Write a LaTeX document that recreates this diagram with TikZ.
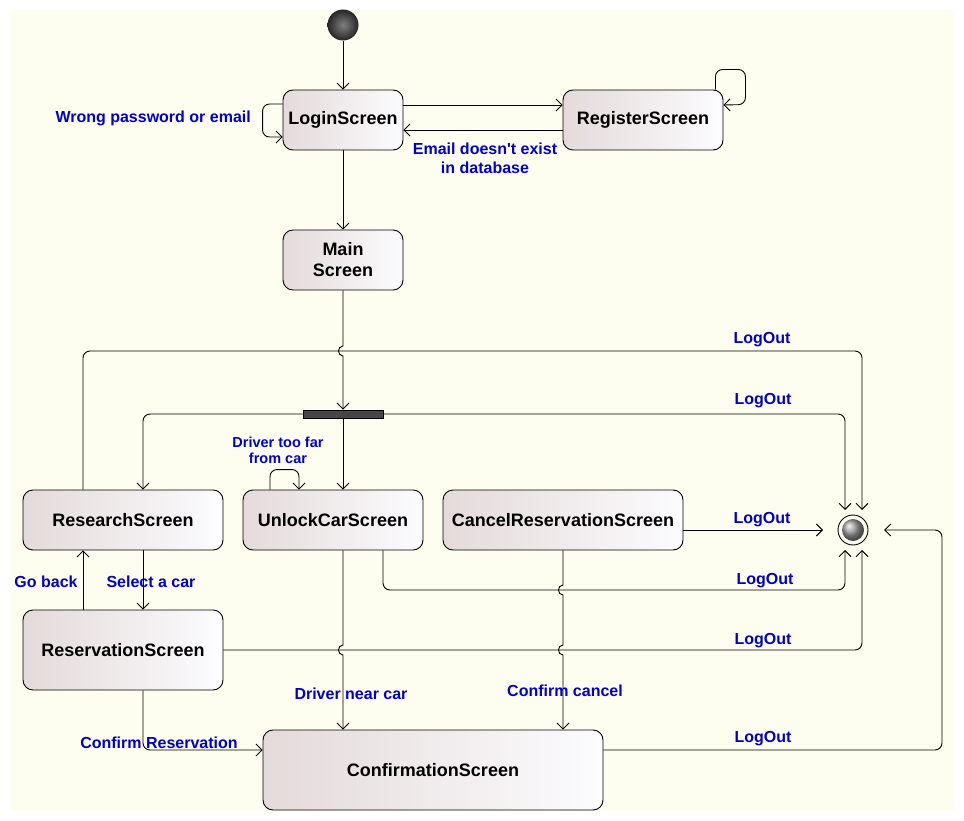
\documentclass[tikz,border=0pt]{standalone}
\usepackage{fontspec}
\setmainfont{Liberation Sans}[Ligatures=TeXOff]
\usetikzlibrary{arrows.meta,calc,shadings}
\definecolor{paper}{RGB}{254,254,240}
\definecolor{lblue}{RGB}{0,0,205}
\definecolor{boxl}{RGB}{228,218,218}
\definecolor{boxr}{RGB}{252,252,254}
\tikzset{
  state/.style={draw, line width=0.9pt, rounded corners=10pt, left color=boxl,
    right color=boxr, font=\bfseries\fontsize{18}{21}\selectfont, align=center,
    inner sep=0pt},
  lbl/.style={text=lblue, font=\bfseries\fontsize{16}{19}\selectfont,
    align=center, inner sep=0pt},
  tr/.style={draw, line width=0.9pt,
    -{Straight Barb[length=6pt,width=12pt,line width=0.9pt]}},
  rtr/.style={tr, rounded corners=7pt},
  vhop/.style={insert path={-- ([yshift=5pt]#1)
      .. controls +(-6,0) and +(-6,0) .. ([yshift=-5pt]#1)}},
}
\begin{document}
\begin{tikzpicture}[x=1pt,y=-1pt]
\useasboundingbox (0,0) rectangle (964,821);
\fill[paper] (10,10) rectangle (954,811);

% initial and final pseudo-states
\node[circle, minimum size=31pt, inner sep=0pt, inner color=black!50,
  outer color=black!85] (start) at (343,25) {};
\node[circle, draw, line width=0.9pt, minimum size=30pt, inner sep=0pt,
  fill=paper] (final) at (853,530) {};
\shade[ball color=gray!75] (final.center) circle[radius=11pt];

% screens
\node[state, minimum width=120pt, minimum height=60pt] (login) at (343,120) {LoginScreen};
\node[state, minimum width=160pt, minimum height=60pt] (register) at (643,120) {RegisterScreen};
\node[state, minimum width=120pt, minimum height=60pt] (main) at (343,260) {Main\\Screen};
\node[draw, fill=black!72, line width=0.9pt, minimum width=80pt, minimum height=8pt,
  inner sep=0pt] (fork) at (343,414) {};
\node[state, minimum width=200pt, minimum height=60pt] (research) at (123,520) {ResearchScreen};
\node[state, minimum width=180pt, minimum height=60pt] (unlock) at (333,520) {UnlockCarScreen};
\node[state, minimum width=240pt, minimum height=60pt] (cancel) at (563,520) {CancelReservationScreen};
\node[state, minimum width=200pt, minimum height=80pt] (reserv) at (123,650) {ReservationScreen};
\node[state, minimum width=340pt, minimum height=80pt] (confirm) at (433,770) {ConfirmationScreen};

% entry points around the final state
\coordinate (fTL) at ([xshift=-8pt,yshift=20pt]final.center);
\coordinate (fTR) at ([xshift=9pt,yshift=20pt]final.center);
\coordinate (fBL) at ([xshift=-8pt,yshift=-20pt]final.center);
\coordinate (fBR) at ([xshift=9pt,yshift=-20pt]final.center);
\coordinate (fL) at ([xshift=-30pt]final.center);
\coordinate (fR) at ([xshift=31pt]final.center);
\coordinate (yA) at (0,351);
\coordinate (yC) at (0,590);

% login / register
\draw[tr] (start) -- (login);
\draw[tr] (login) -- (main);
\draw[tr] ([yshift=15pt]login.east) -- ([yshift=15pt]register.west);
\draw[tr] ([yshift=-10pt]register.west) -- ([yshift=-10pt]login.east);
\node[lbl] (lemail) at (485,158) {Email doesn't exist\\in database};
\draw[rtr] ([yshift=16pt]login.west) -- ++(-20,0) -- ++(0,33) -- ([yshift=-17pt]login.west);
\node[lbl, anchor=east] (lwrong) at (251,118) {Wrong password or email};
\draw[rtr] ([xshift=-8pt]register.north east) -- ++(0,-20) -- ++(30,0) -- ++(0,35)
  -- ([yshift=15pt]register.east);

% main screen and fork
\coordinate (hA) at (main.south |- yA);
\draw[tr] (main.south) [vhop=hA] -- (fork.north);
\draw[rtr] (fork.west) -| ([xshift=20pt]research.north);
\draw[tr] (fork.south) -- (fork.south |- unlock.north);
\draw[rtr] (fork.east) -| (fTL);
\node[lbl] (lout2) at (763,401) {LogOut};

\draw[rtr] ([xshift=-40pt]research.north) |- (fTR |- yA) -- (fTR);
\node[lbl] (lout1) at (762,340) {LogOut};

% unlock car
\draw[rtr] ([xshift=-63pt]unlock.north) -- ++(0,-20) -- ++(29,0) -- ([xshift=-34pt]unlock.north);
\node[lbl, font=\bfseries\fontsize{14.5}{16}\selectfont] (lfar) at (278,450) {Driver too far\\from car};

% logout transitions
\draw[tr] ([yshift=-10pt]cancel.east) -- (fL);
\node[lbl] (lout3) at (762,520) {LogOut};
\draw[rtr] ([xshift=50pt]unlock.south) |- (fBL |- yC) -- (fBL);
\node[lbl] (lout4) at (765,581) {LogOut};
\draw[rtr] (reserv.east) -| (fBR);
\node[lbl] (lout5) at (763,641) {LogOut};
\coordinate (cE) at ([yshift=20pt]confirm.east);
\draw[rtr] (cE) -| ([xshift=58pt]fR) -- (fR);
\node[lbl] (lout6) at (763,739) {LogOut};

% transitions into the confirmation screen
\coordinate (hB) at (cancel.south |- yC);
\coordinate (hC) at (cancel.south |- reserv.east);
\draw[tr] (cancel.south) [vhop=hB] [vhop=hC] -- (cancel.south |- confirm.north);
\node[lbl] (lcancel) at (565,691) {Confirm cancel};
\coordinate (uS) at ([xshift=10pt]unlock.south);
\coordinate (hD) at (uS |- reserv.east);
\draw[tr] (uS) [vhop=hD] -- (uS |- confirm.north);
\node[lbl] (lnear) at (351,694) {Driver near car};

% research / reservation
\draw[tr] ([xshift=20pt]research.south) -- ([xshift=20pt]reserv.north);
\node[lbl] (lselect) at (151,582) {Select a car};
\draw[tr] ([xshift=-40pt]reserv.north) -- ([xshift=-40pt]research.south);
\node[lbl] (lback) at (46,582) {Go back};
\draw[rtr] ([xshift=20pt]reserv.south) |- ([yshift=20pt]confirm.west);
\node[lbl] (lres) at (159,743) {Confirm Reservation};
\end{tikzpicture}
\end{document}
